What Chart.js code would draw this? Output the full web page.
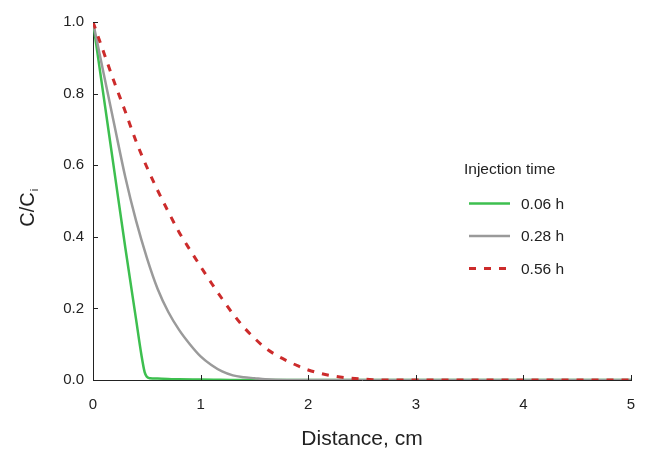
<!DOCTYPE html>
<html>
<head>
<meta charset="utf-8">
<script src="https://cdn.jsdelivr.net/npm/chart.js@4"></script>
<style>
  html, body { margin: 0; padding: 0; background: #fff; }
  #wrap { width: 647px; height: 453px; }
</style>
</head>
<body>
<div id="wrap"><canvas id="chart" width="647" height="453"></canvas></div>
<script>
// data
const seriesLabels = ['0.06 h', '0.28 h', '0.56 h'];

const distGreen = [0, 0.1, 0.2, 0.3, 0.4, 0.45, 0.48, 0.5, 0.53, 0.6, 0.8, 1.0, 1.5, 5];
const concGreen = [1, 0.79, 0.58, 0.37, 0.17, 0.07, 0.022, 0.009, 0.005, 0.004, 0.002, 0.0015, 0, 0];

const distGray = [0, 0.1, 0.2, 0.3, 0.4, 0.5, 0.6, 0.7, 0.8, 0.9, 1.0, 1.1, 1.2, 1.3, 1.4, 1.5, 1.6, 1.8, 5];
const concGray = [1, 0.855, 0.71, 0.567, 0.445, 0.342, 0.255, 0.19, 0.14, 0.1, 0.066, 0.042, 0.024, 0.013, 0.008, 0.005, 0.002, 0, 0];

const distRed = [0, 0.1, 0.2, 0.3, 0.4, 0.5, 0.6, 0.7, 0.8, 0.9, 1.0, 1.1, 1.2, 1.3, 1.4, 1.5, 1.6, 1.7, 1.8, 1.9, 2.0, 2.2, 2.4, 2.6, 2.8, 5];
const concRed = [1, 0.915, 0.83, 0.75, 0.667, 0.595, 0.53, 0.47, 0.413, 0.364, 0.317, 0.271, 0.227, 0.185, 0.148, 0.117, 0.09, 0.07, 0.054, 0.04, 0.028, 0.013, 0.005, 0.001, 0, 0];

const xTicks = [0, 1, 2, 3, 4, 5];
const yTicks = [0, 0.2, 0.4, 0.6, 0.8, 1.0];

const FONT = 'Arial, "Liberation Sans", sans-serif';
const INK = '#222';

const pts = (xs, ys) => xs.map((x, i) => ({ x, y: ys[i] }));

// inside tick marks, y title with subscript, floating legend
const extras = {
  id: 'extras',
  afterDraw(chart) {
    const ctx = chart.ctx;
    const xs = chart.scales.x, ys = chart.scales.y;
    ctx.save();
    ctx.strokeStyle = INK;
    ctx.lineWidth = 1;
    ctx.beginPath();
    xTicks.forEach(v => {
      const px = Math.round(xs.getPixelForValue(v)) + 0.5;
      ctx.moveTo(px, ys.bottom);
      ctx.lineTo(px, ys.bottom - 5);
    });
    yTicks.forEach(v => {
      const py = Math.round(ys.getPixelForValue(v)) + 0.5;
      ctx.moveTo(xs.left, py);
      ctx.lineTo(xs.left + 5, py);
    });
    ctx.stroke();

    // y title: C/C with subscript i
    ctx.fillStyle = INK;
    ctx.translate(33.5, 207.5);
    ctx.rotate(-Math.PI / 2);
    ctx.font = '20px ' + FONT;
    ctx.textBaseline = 'alphabetic';
    ctx.textAlign = 'left';
    const w = ctx.measureText('C/C').width;
    ctx.fillText('C/C', -w / 2 - 2, 0);
    ctx.font = '11px ' + FONT;
    ctx.fillText('i', w / 2 - 1, 4);
    ctx.restore();

    // legend
    ctx.save();
    ctx.fillStyle = INK;
    ctx.font = '15.5px ' + FONT;
    ctx.textBaseline = 'middle';
    ctx.fillText('Injection time', 464, 170);
    const rowY = [203.5, 236, 268.5];
    chart.data.datasets.forEach((ds, i) => {
      ctx.strokeStyle = ds.borderColor;
      ctx.lineWidth = ds.borderWidth;
      ctx.setLineDash(ds.borderDash || []);
      ctx.beginPath();
      ctx.moveTo(469, rowY[i]);
      ctx.lineTo(510, rowY[i]);
      ctx.stroke();
      ctx.setLineDash([]);
      ctx.fillText(ds.label, 521, rowY[i] + 1);
    });
    ctx.restore();
  }
};

new Chart(document.getElementById('chart'), {
  type: 'line',
  data: {
    datasets: [
      { label: seriesLabels[0], data: pts(distGreen, concGreen), borderColor: '#3dbf4f', borderWidth: 2.5, order: 3 },
      { label: seriesLabels[1], data: pts(distGray, concGray), borderColor: '#9a9a9a', borderWidth: 2.5, order: 2 },
      { label: seriesLabels[2], data: pts(distRed, concRed), borderColor: '#cc2b2b', borderWidth: 3, borderDash: [7, 8], order: 1 }
    ]
  },
  options: {
    responsive: false,
    animation: false,
    events: [],
    layout: { padding: { left: 0, right: 16, top: 22, bottom: 1 } },
    elements: {
      point: { radius: 0 },
      line: { cubicInterpolationMode: 'monotone', fill: false }
    },
    plugins: { legend: { display: false }, tooltip: { enabled: false } },
    scales: {
      x: {
        type: 'linear',
        min: 0, max: 5,
        afterBuildTicks: s => { s.ticks = xTicks.map(v => ({ value: v })); },
        afterFit: s => { s.height = 72; s.paddingLeft = 4; s.paddingRight = 4; },
        grid: { display: false, drawTicks: false },
        border: { display: true, color: INK, width: 1 },
        ticks: { color: INK, font: { family: FONT, size: 15 }, padding: 16, maxRotation: 0, callback: v => String(v) },
        title: { display: true, text: 'Distance, cm', color: INK, font: { family: FONT, size: 21 }, padding: 0 }
      },
      y: {
        type: 'linear',
        min: 0, max: 1,
        afterBuildTicks: s => { s.ticks = yTicks.map(v => ({ value: v })); },
        afterFit: s => { s.width = 93; },
        grid: { display: false, drawTicks: false },
        border: { display: true, color: INK, width: 1 },
        ticks: { color: INK, font: { family: FONT, size: 15 }, padding: 9, callback: v => v.toFixed(1) }
      }
    }
  },
  plugins: [extras]
});
</script>
</body>
</html>
